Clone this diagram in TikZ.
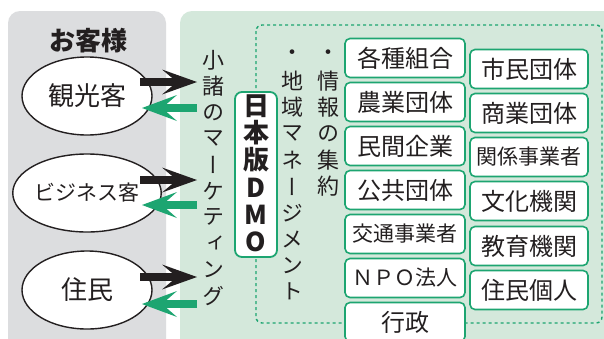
\documentclass[tikz,border=0pt]{standalone}
\usepackage{fontspec}
\setmainfont{Noto Sans CJK JP}
\newfontfamily\vjp[RawFeature=+vert]{Noto Sans CJK JP}
\usetikzlibrary{arrows.meta,shapes.geometric}
\definecolor{panelgray}{HTML}{DCDDDF}
\definecolor{panelgreen}{HTML}{D4E8DB}
\definecolor{dgreen}{HTML}{1DA571}
\definecolor{ink}{HTML}{231F20}
\tikzset{
  orgbox/.style={draw=dgreen, line width=1.6pt, fill=white, rounded corners=5pt,
    minimum height=39pt, inner sep=0pt, text=ink},
  custnode/.style={ellipse, draw=ink, line width=1.4pt, fill=white,
    minimum width=130pt, minimum height=78pt, inner sep=0pt, text=ink},
  outarrow/.style={draw=ink, line width=8pt,
    -{Stealth[length=35pt,width=25pt,inset=15pt,line width=0pt]}},
  inarrow/.style={draw=dgreen, line width=8pt,
    -{Stealth[length=35pt,width=26pt,inset=15pt,line width=0pt]}},
  vchar/.style={inner sep=0pt, text=ink, font=\vjp\fontsize{22pt}{22pt}\selectfont},
  dmochar/.style={inner sep=0pt, text=ink, font=\bfseries\fontsize{26pt}{26pt}\selectfont},
}
\begin{document}
\begin{tikzpicture}[x=1pt,y=-1pt]
\useasboundingbox (0,0) rectangle (604,338);
\clip (0,0) rectangle (604,338);
\fill[white] (0,0) rectangle (604,338);
% panels
\fill[panelgray, rounded corners=12pt] (8,11) rectangle (166,352);
\fill[panelgreen, rounded corners=12pt] (180,11) rectangle (630,352);
% dashed frame
\draw[dgreen, line width=1.4pt, dash pattern=on 3pt off 3pt, rounded corners=6pt]
  (256,25) rectangle (602,323);
% customers
\node[text=ink, font=\bfseries\fontsize{26pt}{26pt}\selectfont] (title) at (88,41) {お客様};
\node[custnode, font=\fontsize{26pt}{26pt}\selectfont] (kanko) at (87,96) {観光客};
\node[custnode, font=\fontsize{21pt}{21pt}\selectfont] (biz) at (87,193) {ビジネス客};
\node[custnode, font=\fontsize{26pt}{26pt}\selectfont] (jumin) at (87,290) {住民};
% arrow end points
\coordinate (k1s) at (140,82);  \coordinate (k1e) at (197,82);
\coordinate (k1r) at (197,108); \coordinate (k1t) at (142,108);
\coordinate (b1s) at (140,180); \coordinate (b1e) at (197,180);
\coordinate (b1r) at (197,205); \coordinate (b1t) at (142,205);
\coordinate (j1s) at (140,277); \coordinate (j1e) at (197,277);
\coordinate (j1r) at (197,304); \coordinate (j1t) at (142,304);
\draw[outarrow] (k1s) -- (k1e);
\draw[inarrow] (k1r) -- (k1t);
\draw[outarrow] (b1s) -- (b1e);
\draw[inarrow] (b1r) -- (b1t);
\draw[outarrow] (j1s) -- (j1e);
\draw[inarrow] (j1r) -- (j1t);
% vertical text columns
\foreach \ch [count=\i from 0] in {小,諸,の,マ,ー,ケ,テ,ィ,ン,グ}
  \node[vchar] (mk\i) at (213,60+26.2*\i) {\ch};
\foreach \ch [count=\i from 0] in {・,地,域,マ,ネ,ー,ジ,メ,ン,ト}
  \node[vchar] (cm\i) at (292,55+26.3*\i) {\ch};
\foreach \ch [count=\i from 0] in {・,情,報,の,集,約}
  \node[vchar] (jh\i) at (328,55+26.3*\i) {\ch};
% DMO box
\node[draw=dgreen, line width=1.8pt, fill=white, rounded corners=7pt,
  minimum width=42pt, minimum height=165pt, inner sep=0pt] (dmo) at (256,174.5) {};
\foreach \ch/\yy [count=\i] in {日/106,本/133,版/160,D/188,M/215,O/242}
  \node[dmochar] (dm\i) at (256,\yy) {\ch};
% organisations, column 1
\node[orgbox, minimum width=120pt, font=\fontsize{24pt}{24pt}\selectfont] (o1) at (405,58) {各種組合};
\node[orgbox, minimum width=120pt, font=\fontsize{24pt}{24pt}\selectfont] (o2) at (405,102) {農業団体};
\node[orgbox, minimum width=120pt, font=\fontsize{24pt}{24pt}\selectfont] (o3) at (405,146) {民間企業};
\node[orgbox, minimum width=120pt, font=\fontsize{24pt}{24pt}\selectfont] (o4) at (405,190) {公共団体};
\node[orgbox, minimum width=120pt, font=\fontsize{21pt}{21pt}\selectfont] (o5) at (405,234) {交通事業者};
\node[orgbox, minimum width=120pt, font=\fontsize{21pt}{21pt}\selectfont] (o6) at (405,278) {ＮＰＯ法人};
\node[orgbox, minimum width=120pt, font=\fontsize{24pt}{24pt}\selectfont] (o7) at (405,322) {行政};
% organisations, column 2
\node[orgbox, minimum width=118pt, font=\fontsize{24pt}{24pt}\selectfont] (p1) at (529,69) {市民団体};
\node[orgbox, minimum width=118pt, font=\fontsize{24pt}{24pt}\selectfont] (p2) at (529,113) {商業団体};
\node[orgbox, minimum width=118pt, font=\fontsize{21pt}{21pt}\selectfont] (p3) at (529,157) {関係事業者};
\node[orgbox, minimum width=118pt, font=\fontsize{24pt}{24pt}\selectfont] (p4) at (529,201) {文化機関};
\node[orgbox, minimum width=118pt, font=\fontsize{24pt}{24pt}\selectfont] (p5) at (529,246) {教育機関};
\node[orgbox, minimum width=118pt, font=\fontsize{24pt}{24pt}\selectfont] (p6) at (529,290) {住民個人};
\end{tikzpicture}
\end{document}
